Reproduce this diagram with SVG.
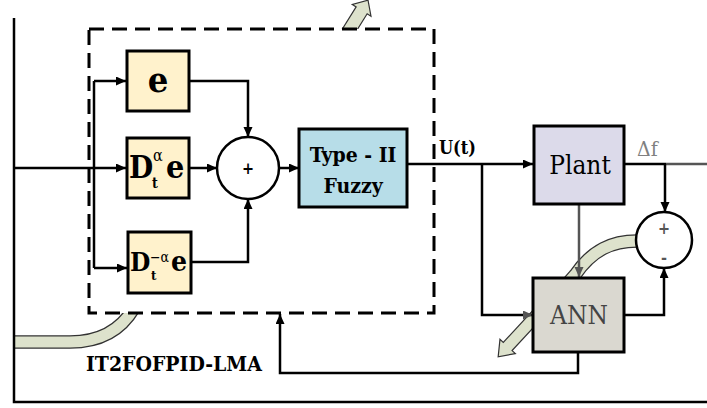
<svg xmlns="http://www.w3.org/2000/svg" width="707" height="408" viewBox="0 0 707 408">
<defs>
<style>
.ln{fill:none;stroke:#000;stroke-width:2.5}
.lg{fill:none;stroke:#555;stroke-width:2.5}
.box{stroke:#000;stroke-width:3}
.b{font-weight:bold}
.band{fill:none;stroke:#333;stroke-width:13.5;stroke-linecap:butt}
.bandin{fill:none;stroke:#dde2cc;stroke-width:11;stroke-linecap:butt}
.blk{fill:#dde2cc;stroke:#333;stroke-width:1.2}
</style>
<marker id="ah" markerUnits="userSpaceOnUse" markerWidth="11" markerHeight="10" refX="10" refY="4.5" orient="auto">
<path d="M0,0 L10,4.5 L0,9 Z" fill="#000"/>
</marker>
<marker id="ahg" markerUnits="userSpaceOnUse" markerWidth="11" markerHeight="10" refX="10" refY="4.5" orient="auto">
<path d="M0,0 L10,4.5 L0,9 Z" fill="#555"/>
</marker>
<clipPath id="outside">
<path clip-rule="evenodd" d="M0 0H707V408H0Z M89 29V313H434V29Z"/>
</clipPath>
</defs>
<rect width="707" height="408" fill="#fff"/>

<g id="adaptation-arrows">
<g clip-path="url(#outside)">
<path class="band" d="M14 342 H70 C100 342 121 330 134 308"/>
<path class="bandin" d="M14 342 H70 C100 342 121 330 134 308"/>
<path class="blk" transform="translate(350,29) rotate(-58)" d="M-12,-6.5 L22,-6.5 L22,-11 L34,0 L22,11 L22,6.5 L-12,6.5 Z"/>
</g>
<path class="band" d="M637 241 C612 241 592 250 575 275 L560 292"/>
<path class="bandin" d="M637 241 C612 241 592 250 575 275 L560 292"/>
<path class="blk" transform="translate(560,290) rotate(132.8)" d="M0,-6 L77,-6 L77,-10.5 L91,0 L77,10.5 L77,6 L0,6 Z"/>
</g>

<g font-family="DejaVu Serif Condensed, DejaVu Serif, serif" font-stretch="condensed">
<g id="controller-boundary">
<rect x="89" y="29" width="345" height="284" fill="none" stroke="#000" stroke-width="3" stroke-dasharray="15 8"/>
<text class="b" x="86" y="371" font-size="21">IT2FOFPID-LMA</text>
</g>

<g id="connectors">
<path class="ln" d="M14 18 V402 H707"/>
<path class="ln" d="M14 168 H126" marker-end="url(#ah)"/>
<path class="ln" d="M94 81 V268"/>
<path class="ln" d="M94 81 H126" marker-end="url(#ah)"/>
<path class="ln" d="M94 268 H127" marker-end="url(#ah)"/>
<path class="ln" d="M189 81 H248 V137" marker-end="url(#ah)"/>
<path class="ln" d="M189 168 H217" marker-end="url(#ah)"/>
<path class="ln" d="M191 262 H248 V199" marker-end="url(#ah)"/>
<path class="ln" d="M279 168 H299" marker-end="url(#ah)"/>
<path class="ln" d="M407 164 H533" marker-end="url(#ah)"/>
<path class="ln" d="M482 164 V315 H533" marker-end="url(#ahg)"/>
<path class="ln" d="M624 164 H666"/>
<path class="lg" d="M666 164 H707" stroke="#888"/>
<path class="ln" d="M665 164 V212" marker-end="url(#ah)"/>
<path class="lg" d="M579 204 V277" marker-end="url(#ahg)"/>
<path class="ln" d="M624 315 H664 V268" marker-end="url(#ah)"/>
<path class="ln" d="M578 352 V373 H280 V314" marker-end="url(#ah)"/>
<text class="b" x="439" y="154" font-size="18">U(t)</text>
<text x="637" y="156" font-size="21" fill="#808080">Δf</text>
</g>

<g id="node-e">
<rect class="box" x="127" y="51" width="62" height="60" fill="#fff2cc"/>
<text class="b" x="158" y="92" font-size="36" text-anchor="middle">e</text>
</g>

<g id="node-d-alpha">
<rect class="box" x="127" y="138" width="62" height="60" fill="#fff2cc"/>
<text class="b" x="129" y="178" font-size="31">D</text>
<text x="153" y="161" font-size="16">α</text>
<text class="b" x="152" y="188" font-size="14">t</text>
<text class="b" x="166" y="178" font-size="32">e</text>
</g>

<g id="node-d-minus-alpha">
<rect class="box" x="128" y="232" width="63" height="61" fill="#fff2cc"/>
<text class="b" x="130" y="271" font-size="26">D</text>
<text x="150" y="262" font-size="14">−α</text>
<text class="b" x="151" y="280" font-size="13">t</text>
<text class="b" x="171" y="271" font-size="28">e</text>
</g>

<g id="node-sum1">
<circle cx="248" cy="168" r="31" fill="#fff" stroke="#000" stroke-width="2.5"/>
<text class="b" x="248" y="174" font-size="16" text-anchor="middle">+</text>
</g>

<g id="node-fuzzy">
<rect class="box" x="299" y="129" width="108" height="78" fill="#b7dde8"/>
<text class="b" x="353" y="162" font-size="21" text-anchor="middle">Type - II</text>
<text class="b" x="353" y="193" font-size="21" text-anchor="middle">Fuzzy</text>
</g>

<g id="node-plant">
<rect class="box" x="534" y="126" width="90" height="78" fill="#dcdaea"/>
<text x="580" y="174" font-size="26" text-anchor="middle">Plant</text>
</g>

<g id="node-ann">
<rect class="box" x="533" y="278" width="91" height="74" fill="#dad8d0"/>
<text x="579" y="324" font-size="26" text-anchor="middle" fill="#444">ANN</text>
</g>

<g id="node-sum2">
<circle cx="664" cy="240" r="28" fill="#fff" stroke="#000" stroke-width="2.5"/>
<text class="b" x="664" y="234" font-size="16" text-anchor="middle" fill="#555">+</text>
<text class="b" x="664" y="263" font-size="16" text-anchor="middle" fill="#555">-</text>
</g>
</g>
</svg>
